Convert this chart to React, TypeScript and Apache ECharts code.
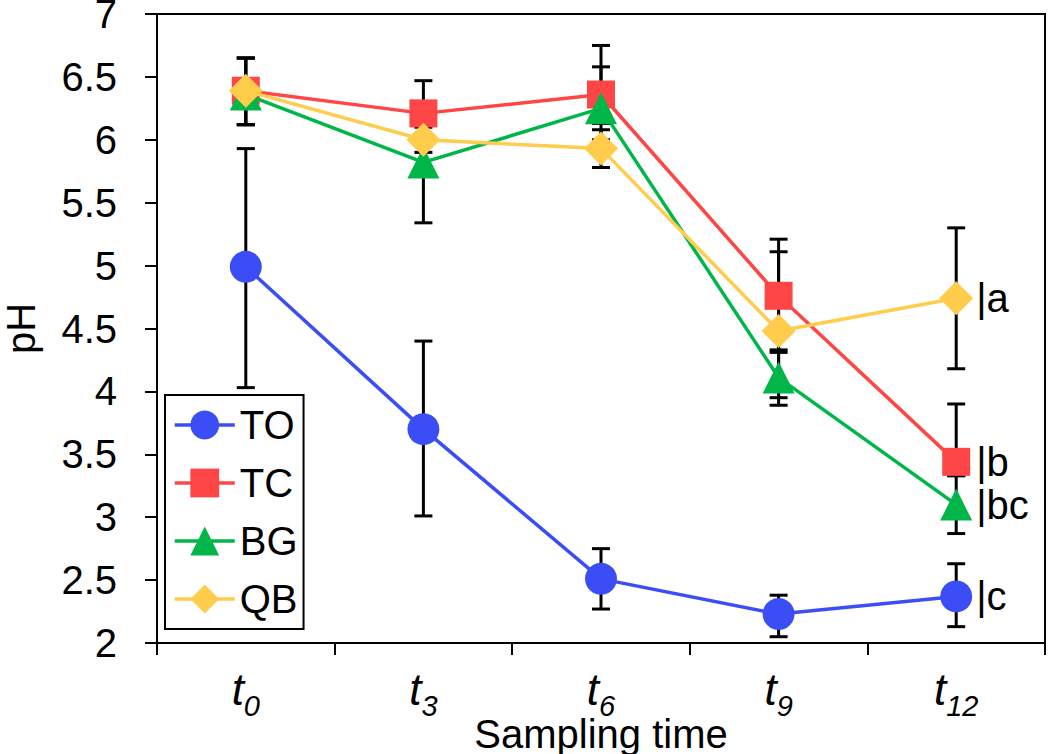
import React, { useEffect, useRef } from "react";
import * as echarts from "echarts";

const categories = ["0", "3", "6", "9", "12"];
const seriesNames = ["TO", "TC", "BG", "QB"];
const colors = ["#3B4EF5", "#FF4646", "#00B648", "#FFCC4C"];
const symbols = ["circle", "rect", "triangle", "diamond"];
const symbolSizes = [32, 28, 32, 34];

const toMean = [4.99, 3.7, 2.51, 2.23, 2.37];
const toLow = [4.03, 3.01, 2.27, 2.05, 2.13];
const toHigh = [5.93, 4.4, 2.75, 2.38, 2.63];

const tcMean = [6.39, 6.21, 6.36, 4.76, 3.44];
const tcLow = [6.12, 5.95, 6.0, 4.31, 3.33];
const tcHigh = [6.65, 6.47, 6.75, 5.21, 3.9];

const bgMean = [6.36, 5.82, 6.25, 4.11, 3.1];
const bgLow = [6.12, 5.34, 6.13, 3.89, 2.87];
const bgHigh = [6.65, 6.3, 6.58, 4.33, 3.33];

const qbMean = [6.39, 6.0, 5.93, 4.48, 4.74];
const qbLow = [6.12, 5.9, 5.78, 3.95, 4.18];
const qbHigh = [6.65, 6.1, 6.08, 5.11, 5.3];

const means = [toMean, tcMean, bgMean, qbMean];
const lows = [toLow, tcLow, bgLow, qbLow];
const highs = [toHigh, tcHigh, bgHigh, qbHigh];

const groupLetters = ["c", "b", "bc", "a"];

const yTicks = { min: 2, max: 7, interval: 0.5 };

const FONT = "Liberation Sans, Arial, sans-serif";

export default function App() {
  const ref = useRef<HTMLDivElement>(null);
  useEffect(() => {
    if (!ref.current) return;
    const chart = echarts.init(ref.current, undefined, { renderer: "svg" });

    const errorSeries = seriesNames.map((name, si) => ({
      type: "custom",
      name: name + "-err",
      z: 1,
      silent: true,
      data: categories.map((_, i) => [i, lows[si][i], highs[si][i]]),
      renderItem: (params: any, api: any) => {
        const x = api.value(0);
        const lo = api.coord([x, api.value(1)]);
        const hi = api.coord([x, api.value(2)]);
        const cap = 9;
        const style = { stroke: "#000", lineWidth: 3 };
        return {
          type: "group",
          children: [
            { type: "line", shape: { x1: lo[0], y1: lo[1], x2: hi[0], y2: hi[1] }, style },
            { type: "line", shape: { x1: lo[0] - cap, y1: lo[1], x2: lo[0] + cap, y2: lo[1] }, style },
            { type: "line", shape: { x1: hi[0] - cap, y1: hi[1], x2: hi[0] + cap, y2: hi[1] }, style },
          ],
        };
      },
    }));

    const lineSeries = seriesNames.map((name, si) => ({
      type: "line",
      name,
      z: 3 + si,
      data: means[si],
      symbol: symbols[si],
      symbolSize: symbolSizes[si],
      showAllSymbol: true,
      lineStyle: { color: colors[si], width: 3.5 },
      itemStyle: { color: colors[si], opacity: 1 },
      emphasis: { disabled: true },
    }));

    const letterSeries = {
      type: "custom",
      name: "letters",
      z: 10,
      silent: true,
      data: seriesNames.map((_, si) => [categories.length - 1, means[si][categories.length - 1], groupLetters[si]]),
      renderItem: (params: any, api: any) => {
        const p = api.coord([api.value(0), api.value(1)]);
        const letter = groupLetters[params.dataIndex];
        return {
          type: "text",
          x: p[0] + 20,
          y: p[1],
          style: {
            text: "|" + letter,
            fill: "#000",
            font: `40px ${FONT}`,
            verticalAlign: "middle",
            align: "left",
          },
        };
      },
    };

    chart.setOption({
      animation: false,
      backgroundColor: "#fff",
      grid: {
        left: 157,
        right: 5,
        top: 14,
        bottom: 111,
        outerBoundsMode: "none",
        containLabel: false,
        show: true,
        borderColor: "#000",
        borderWidth: 2,
        backgroundColor: "transparent",
      },
      legend: {
        data: seriesNames,
        orient: "vertical",
        left: 165,
        top: 395,
        itemWidth: 60,
        itemHeight: 36,
        itemGap: 12,
        padding: [7, 6, 7, 8],
        borderColor: "#000",
        borderWidth: 2,
        backgroundColor: "#fff",
        lineStyle: { width: 3.5 },
        textStyle: { fontSize: 40, fontFamily: FONT, color: "#000", lineHeight: 46 },
      },
      xAxis: {
        type: "category",
        data: categories,
        boundaryGap: true,
        axisLine: { lineStyle: { color: "#000", width: 2 } },
        axisTick: { show: true, length: 12, inside: false, lineStyle: { color: "#000", width: 2 } },
        axisLabel: {
          margin: 24,
          formatter: (v: string) => `{t|t}{s|${v}}`,
          rich: {
            t: { fontSize: 44, fontStyle: "italic", fontFamily: FONT, color: "#000", verticalAlign: "bottom", padding: [0, 0, 9, 0] },
            s: { fontSize: 29, fontStyle: "italic", fontFamily: FONT, color: "#000", verticalAlign: "bottom" },
          },
        },
        name: "Sampling time",
        nameLocation: "middle",
        nameGap: 73,
        nameMoveOverlap: false,
        nameTextStyle: { fontSize: 40, fontFamily: FONT, color: "#000", lineHeight: 36 },
        splitLine: { show: false },
      },
      yAxis: {
        type: "value",
        min: yTicks.min,
        max: yTicks.max,
        interval: yTicks.interval,
        axisLine: { show: true, lineStyle: { color: "#000", width: 2 } },
        axisTick: { show: true, length: 12, inside: false, lineStyle: { color: "#000", width: 2 } },
        axisLabel: { fontSize: 40, fontFamily: FONT, color: "#000", margin: 40, lineHeight: 26 },
        splitLine: { show: false },
        name: "pH",
        nameLocation: "middle",
        nameGap: 116,
        nameMoveOverlap: false,
        nameTextStyle: { fontSize: 40, fontFamily: FONT, color: "#000", lineHeight: 40 },
      },
      series: [...errorSeries, ...lineSeries, letterSeries],
    });
    return () => chart.dispose();
  }, []);
  return (
    <div
      ref={ref}
      style={{ position: "absolute", left: 0, top: 0, width: 1050, height: 754 }}
    />
  );
}
